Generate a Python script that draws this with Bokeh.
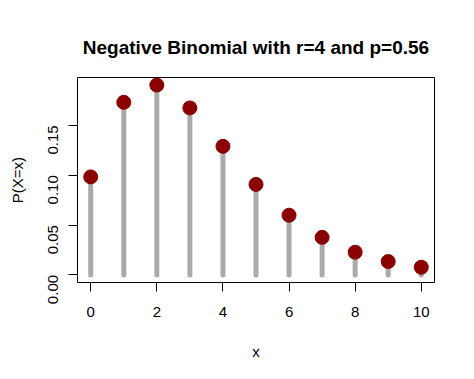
import math
from bokeh.plotting import figure
from bokeh.models import Range1d, FixedTicker, ColumnDataSource
from bokeh.embed import file_html
from bokeh.resources import INLINE

x_vals = [0, 1, 2, 3, 4, 5, 6, 7, 8, 9, 10]
prob = [0.0983, 0.1731, 0.1904, 0.1675, 0.1290, 0.0908, 0.0599, 0.0377, 0.0228, 0.0134, 0.0077]
base = [0.0] * len(x_vals)
x_ticks = [0, 2, 4, 6, 8, 10]
y_ticks = [0.0, 0.05, 0.10, 0.15]
y_tick_labels = {0.0: "0.00", 0.05: "0.05", 0.1: "0.10", 0.15: "0.15"}

src = ColumnDataSource(dict(x=x_vals, y=prob, y0=base))

FONT = "Liberation Sans"

p = figure(width=458, height=363, output_backend="svg", toolbar_location=None,
           x_range=Range1d(-0.4, 10.4), y_range=Range1d(-0.0076, 0.198),
           min_border_left=77, min_border_right=24, min_border_top=77, min_border_bottom=81,
           title="Negative Binomial with r=4 and p=0.56")

p.title.text_font = FONT
p.title.text_font_size = "19px"
p.title.text_font_style = "bold"
p.title.align = "center"
p.title.text_color = "black"
p.title.offset = 0
p.title.standoff = 40

p.outline_line_color = "black"
p.outline_line_width = 1
p.background_fill_color = "white"
p.border_fill_color = "white"
p.xgrid.visible = False
p.ygrid.visible = False

p.segment(x0="x", y0="y0", x1="x", y1="y", source=src, line_color="#aaaaaa",
          line_width=5, line_cap="round")
p.scatter(x="x", y="y", source=src, size=14, fill_color="#8b0000", line_color="#8b0000")

for ax in (p.xaxis[0], p.yaxis[0]):
    ax.axis_line_color = None
    ax.major_tick_out = 9
    ax.major_tick_in = 0
    ax.minor_tick_line_color = None
    ax.major_tick_line_color = "black"
    ax.major_label_text_font = FONT
    ax.major_label_text_font_size = "15px"
    ax.major_label_text_color = "black"
    ax.axis_label_text_font = FONT
    ax.axis_label_text_font_size = "15px"
    ax.axis_label_text_font_style = "normal"
    ax.axis_label_text_color = "black"

p.xaxis.ticker = FixedTicker(ticks=x_ticks)
p.yaxis.ticker = FixedTicker(ticks=y_ticks)
p.yaxis.major_label_overrides = y_tick_labels
p.yaxis.major_label_orientation = math.pi / 2
p.xaxis.axis_label = "x"
p.yaxis.axis_label = "P(X=x)"
p.xaxis.major_label_standoff = 15
p.yaxis.major_label_standoff = 15
p.xaxis.axis_label_standoff = 23
p.yaxis.axis_label_standoff = 15

open("out.html", "w").write(file_html(p, INLINE))
